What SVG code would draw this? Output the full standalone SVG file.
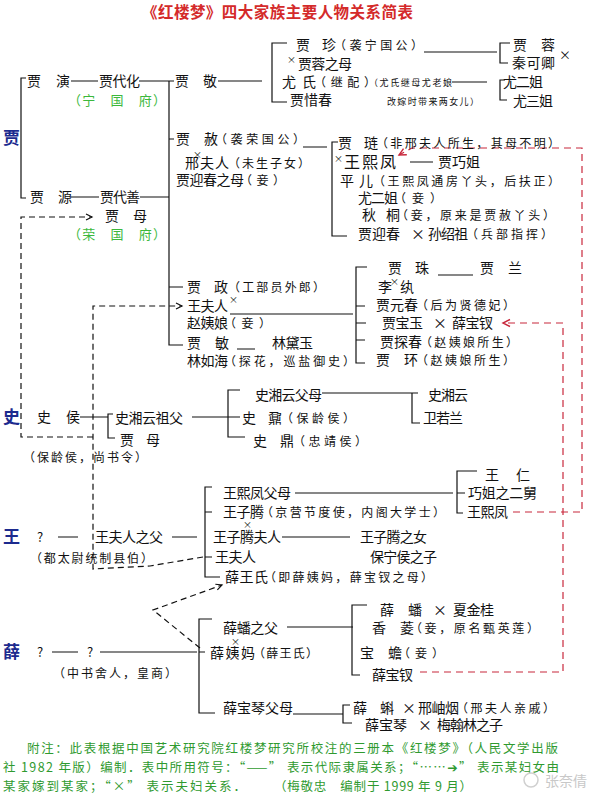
<svg xmlns="http://www.w3.org/2000/svg" width="600" height="806" viewBox="0 0 600 806">
<defs>
<style>
text{font-family:"Noto Sans CJK SC","Noto Sans CJK TC",sans-serif;font-size:14px;fill:#111}
.a{font-size:12px}
.s{font-size:9px}
.x{font-size:9px}
.g{fill:#3cb83c;font-size:13px}
.fam{fill:#1c2a8e;font-size:17px;font-weight:bold}
.ttl{fill:#d42a2a;font-size:15.5px;font-weight:bold}
.ft{fill:#2f9a2f;font-size:12.5px}
.arw{font-family:"DejaVu Sans",sans-serif;font-weight:bold}
.wm{fill:#c8c8c8;font-size:14px}
.ln{stroke:#111;stroke-width:1.2;fill:none}
.dl{stroke:#111;stroke-width:1.2;fill:none;stroke-dasharray:6,4}
.rl{stroke:#c8283c;stroke-width:1.2;fill:none;stroke-dasharray:7,5}
</style>
<marker id="ab" markerWidth="9" markerHeight="9" refX="7" refY="4" orient="auto" markerUnits="userSpaceOnUse"><path d="M1,1 L7,4 L1,7" fill="none" stroke="#111" stroke-width="1.2"/></marker>
<marker id="ar" markerWidth="10" markerHeight="10" refX="8" refY="4.5" orient="auto" markerUnits="userSpaceOnUse"><path d="M1,1 L8,4.5 L1,8" fill="none" stroke="#c8283c" stroke-width="1.4"/></marker>
</defs>
<rect width="600" height="806" fill="#fff"/>

<g id="title"><text class="ttl" x="142" y="18" textLength="271">《红楼梦》四大家族主要人物关系简表</text></g>

<g id="connectors">
<path class="ln" d="M26 78 H21 V198 H26"/>
<path class="ln" d="M71 81 H98 M139 81 H174 M169 81 V345 H183 M169 139 H174 M71 197 H99 M140 197 H169 M169 287 H183"/>
<path class="ln" d="M218 81 H262 M287 43 H272 V102 H287 M424 52 H497 M510 43 H500 V63 H508 M452 82 H487 M505 80 H500 V100 H507"/>
<path class="ln" d="M303 147 H327 M338 142 H332 V236 H347 M410 162 H433"/>
<path class="ln" d="M230 314 H353 M367 267 H356 V363 H365 M356 306 H365 M356 323 H366 M356 340 H365 M438 275 H473 M237 349 H255"/>
<path class="ln" d="M80 417 H108 M113 414 H108 V438 H115 M192 417 H228 M240 390 H228 V437 H245 M228 417 H240 M322 393 H412 M418 393 H412 V423 H420"/>
<path class="ln" d="M58 537 H78 M172 537 H197 M212 487 H205 V577 H220 M205 512 H212 M205 557 H212 M295 493 H453 M477 471 H457 V513 H463 M457 493 H465 M282 537 H350"/>
<path class="ln" d="M52 652 H78 M100 652 H197 M212 619 H199 V713 H215 M199 652 H205 M287 627 H353 M367 605 H352 V675 H360 M293 714 H343 M350 705 H343 V723 H352"/>
<path class="dl" d="M93 437 H21 V217 H92" marker-end="url(#ab)"/>
<path class="dl" d="M203 557 L150 566 L93 569 V306 H182" marker-end="url(#ab)"/>
<path class="dl" d="M200 648 L153 610 L222 585" marker-end="url(#ab)"/>
<path class="rl" d="M513 512 H582 V148 H412 L399 155" marker-end="url(#ar)"/>
<path class="rl" d="M420 672 H563 V323 H503" marker-end="url(#ar)"/>
</g>

<g id="fam-jia"><text class="fam" x="3" y="144">贾</text></g>
<g id="jiayan"><text x="27" y="86" textLength="43">贾　演</text></g>
<g id="jiadaihua"><text x="99" y="86" textLength="41">贾代化</text></g>
<g id="jiajing"><text x="175" y="86" textLength="42">贾　敬</text></g>
<g id="ningguofu"><text class="g" x="68" y="105" textLength="98">（宁　国　府）</text></g>
<g id="jiazhen"><text y="50"><tspan x="296" textLength="40">贾　珍</tspan><tspan class="a" x="334" textLength="89">（袭宁国公）</tspan></text></g>
<g id="jiarongzhimu"><text y="69"><tspan class="x" x="287" dy="-6">×</tspan><tspan x="298" dy="6" textLength="54">贾蓉之母</tspan></text></g>
<g id="youshi"><text y="87"><tspan x="282" textLength="34">尤　氏</tspan><tspan class="a" x="314" textLength="62">（继配）</tspan><tspan class="s" x="369" dy="-1" textLength="83">（尤氏继母尤老娘</tspan></text><text class="s" x="387" y="105" textLength="92">改嫁时带来两女儿）</text></g>
<g id="jiaxichun"><text x="290" y="105" textLength="42">贾惜春</text></g>
<g id="jiarong"><text x="513" y="50" textLength="42">贾　蓉</text></g>
<g id="qinkeqing"><text y="68"><tspan x="512" textLength="43">秦可卿</tspan><tspan class="a" x="559" dy="-8">×</tspan></text></g>
<g id="youerjie"><text x="503" y="87" textLength="40">尤二姐</text></g>
<g id="yousanjie"><text x="513" y="106" textLength="40">尤三姐</text></g>

<g id="jiashe"><text y="144"><tspan x="176" textLength="42">贾　赦</tspan><tspan class="a" x="215" textLength="90">（袭荣国公）</tspan></text></g>
<g id="xingfuren"><text y="168"><tspan class="x" x="193" dy="-10">×</tspan><tspan x="185" dy="10" textLength="44">邢夫人</tspan><tspan class="a" x="228" textLength="82">（未生子女）</tspan></text></g>
<g id="yingchunmu"><text y="185"><tspan x="176" textLength="68">贾迎春之母</tspan><tspan class="a" x="240" textLength="45">（妾）</tspan></text></g>
<g id="jialian"><text y="148"><tspan x="338" textLength="40">贾　琏</tspan><tspan class="a" x="376" textLength="184">（非邢夫人所生，其母不明）</tspan></text></g>
<g id="wangxifeng1"><text y="168"><tspan class="x" x="334" dy="-6">×</tspan><tspan x="344" dy="6" style="font-size:16px" textLength="52">王熙凤</tspan></text></g>
<g id="jiaqiaojie"><text x="438" y="167" textLength="42">贾巧姐</text></g>
<g id="pinger"><text y="186"><tspan x="340" textLength="33">平　儿</tspan><tspan class="a" x="373" textLength="187">（王熙凤通房丫头，后扶正）</tspan></text></g>
<g id="youerjie2"><text y="203"><tspan x="358" textLength="40">尤二姐</tspan><tspan class="a" x="394" textLength="48">（妾）</tspan></text></g>
<g id="qiutong"><text y="220"><tspan x="362" textLength="38">秋　桐</tspan><tspan class="a" x="396" textLength="159">（妾，原来是贾赦丫头）</tspan></text></g>
<g id="jiayingchun"><text y="239"><tspan x="358" textLength="42">贾迎春</tspan><tspan x="411">×</tspan><tspan x="428" textLength="40">孙绍祖</tspan><tspan class="a" x="466" textLength="87">（兵部指挥）</tspan></text></g>

<g id="jiayuan"><text x="30" y="202" textLength="42">贾　源</text></g>
<g id="jiadaishan"><text x="100" y="202" textLength="40">贾代善</text></g>
<g id="jiamu"><text x="105" y="221" textLength="42">贾　母</text></g>
<g id="rongguofu"><text class="g" x="68" y="239" textLength="98">（荣　国　府）</text></g>

<g id="jiazheng"><text y="292"><tspan x="187" textLength="41">贾　政</tspan><tspan class="a" x="228" textLength="97">（工部员外郎）</tspan></text></g>
<g id="wangfuren1"><text y="311"><tspan x="187" textLength="41">王夫人</tspan><tspan class="x" x="229" dy="-8">×</tspan></text></g>
<g id="zhaoyiniang"><text y="328"><tspan x="187" textLength="41">赵姨娘</tspan><tspan class="a" x="224" textLength="47">（妾）</tspan></text></g>
<g id="jiamin"><text x="187" y="348" textLength="42">贾　敏</text></g>
<g id="lindaiyu"><text x="272" y="348" textLength="41">林黛玉</text></g>
<g id="linruhai"><text y="366"><tspan x="187" textLength="41">林如海</tspan><tspan class="a" x="224" textLength="131">（探花，巡盐御史）</tspan></text></g>
<g id="jiazhu"><text x="388" y="273" textLength="41">贾　珠</text></g>
<g id="jialan"><text x="480" y="273" textLength="42">贾　兰</text></g>
<g id="liwan"><text y="292"><tspan x="378">李</tspan><tspan class="x" x="390" dy="-7">×</tspan><tspan x="400" dy="7">纨</tspan></text></g>
<g id="jiayuanchun"><text y="310"><tspan x="376" textLength="42">贾元春</tspan><tspan class="a" x="416" textLength="99">（后为贤德妃）</tspan></text></g>
<g id="jiabaoyu"><text y="328"><tspan x="382" textLength="41">贾宝玉</tspan><tspan x="433">×</tspan><tspan x="452" textLength="41">薛宝钗</tspan></text></g>
<g id="jiatanchun"><text y="347"><tspan x="380" textLength="42">贾探春</tspan><tspan class="a" x="420" textLength="98">（赵姨娘所生）</tspan></text></g>
<g id="jiahuan"><text y="365"><tspan x="376" textLength="42">贾　环</tspan><tspan class="a" x="416" textLength="99">（赵姨娘所生）</tspan></text></g>

<g id="fam-shi"><text class="fam" x="3" y="423">史</text></g>
<g id="shihou"><text x="37" y="422" textLength="43">史　侯</text><text class="a" x="23" y="462" textLength="124">（保龄侯，尚书令）</text></g>
<g id="xiangyunzufu"><text x="115" y="423" textLength="68">史湘云祖父</text></g>
<g id="jiamu2"><text x="120" y="445" textLength="40">贾　母</text></g>
<g id="xiangyunfumu"><text x="255" y="400" textLength="67">史湘云父母</text></g>
<g id="shixiangyun"><text x="428" y="400" textLength="40">史湘云</text></g>
<g id="weiruolan"><text x="423" y="423" textLength="40">卫若兰</text></g>
<g id="shinai"><text y="423"><tspan x="242" textLength="40">史　鼐</tspan><tspan class="a" x="281" textLength="74">（保龄侯）</tspan></text></g>
<g id="shiding"><text y="446"><tspan x="253" textLength="41">史　鼎</tspan><tspan class="a" x="293" textLength="74">（忠靖侯）</tspan></text></g>

<g id="fam-wang"><text class="fam" x="3" y="543">王</text></g>
<g id="wangq"><text x="37" y="542" style="font-size:13px">?</text></g>
<g id="wangfurenzhifu"><text x="95" y="542" textLength="68">王夫人之父</text><text class="a" x="30" y="563" textLength="123">（都太尉统制县伯）</text></g>
<g id="xifengfumu"><text x="223" y="498" textLength="68">王熙凤父母</text></g>
<g id="wangziteng"><text y="517"><tspan x="223" textLength="41">王子腾</tspan><tspan class="a" x="261" textLength="184">（京营节度使，内阁大学士）</tspan></text></g>
<g id="zitengfuren"><text y="542"><tspan class="x" x="243" dy="-14">×</tspan><tspan x="213" dy="14" textLength="68">王子腾夫人</tspan></text></g>
<g id="zitengzhinv"><text x="360" y="542" textLength="67">王子腾之女</text></g>
<g id="baoninghou"><text x="370" y="562" textLength="67">保宁侯之子</text></g>
<g id="wangfuren2"><text x="215" y="562" textLength="41">王夫人</text></g>
<g id="xuewangshi"><text y="582"><tspan x="225" textLength="43">薛王氏</tspan><tspan class="a" x="264" textLength="169">（即薛姨妈，薛宝钗之母）</tspan></text></g>
<g id="wangren"><text x="485" y="480" textLength="45">王　仁</text></g>
<g id="qiaojiejiu"><text x="468" y="498" textLength="69">巧姐之二舅</text></g>
<g id="wangxifeng2"><text x="467" y="517" textLength="41">王熙凤</text></g>

<g id="fam-xue"><text class="fam" x="3" y="658">薛</text></g>
<g id="xueq1"><text x="37" y="657" style="font-size:13px">?</text></g>
<g id="xueq2"><text x="87" y="657" style="font-size:13px">?</text><text class="a" x="53" y="678" textLength="124">（中书舍人，皇商）</text></g>
<g id="xuepanfu"><text x="223" y="633" textLength="55">薛蟠之父</text></g>
<g id="xueyima"><text y="658"><tspan class="x" x="231" dy="-13">×</tspan><tspan x="210" dy="13" textLength="45">薛姨妈</tspan><tspan class="a" x="253" textLength="65">（薛王氏）</tspan></text></g>
<g id="baoqinfumu"><text x="223" y="713" textLength="70">薛宝琴父母</text></g>
<g id="xuepan"><text y="615"><tspan x="380" textLength="42">薛　蟠</tspan><tspan x="433">×</tspan><tspan x="453" textLength="41">夏金桂</tspan></text></g>
<g id="xiangling"><text y="633"><tspan x="372" textLength="42">香　菱</tspan><tspan class="a" x="410" textLength="129">（妾，原名甄英莲）</tspan></text></g>
<g id="baochan"><text y="658"><tspan x="360" textLength="42">宝　蟾</tspan><tspan class="a" x="398" textLength="46">（妾）</tspan></text></g>
<g id="xuebaochai"><text x="372" y="680" textLength="41">薛宝钗</text></g>
<g id="xueke"><text y="713"><tspan x="353" textLength="41">薛　蝌</tspan><tspan x="402">×</tspan><tspan x="418" textLength="41">邢岫烟</tspan><tspan class="a" x="456" textLength="99">（邢夫人亲戚）</tspan></text></g>
<g id="xuebaoqin"><text y="730"><tspan x="365" textLength="42">薛宝琴</tspan><tspan x="418">×</tspan><tspan x="437" textLength="66">梅翰林之子</tspan></text></g>

<g id="footer">
<text class="ft" x="27" y="753" textLength="531">附注：此表根据中国艺术研究院红楼梦研究所校注的三册本《红楼梦》（人民文学出版</text>
<text class="ft" x="3" y="772" textLength="556">社 1982 年版）编制．表中所用符号：“——” 表示代际隶属关系；“……<tspan class="arw">➔</tspan>” 表示某妇女由</text>
<text class="ft" y="791"><tspan x="3" textLength="243">某家嫁到某家；“×” 表示夫妇关系．</tspan><tspan x="274" textLength="198">（梅敬忠　编制于 1999 年 9 月）</tspan></text>
</g>
<g id="watermark"><circle cx="531" cy="780" r="7" fill="none" stroke="#d0d0d0" stroke-width="1.5"/><text class="wm" x="545" y="786">张奈倩</text></g>
</svg>
